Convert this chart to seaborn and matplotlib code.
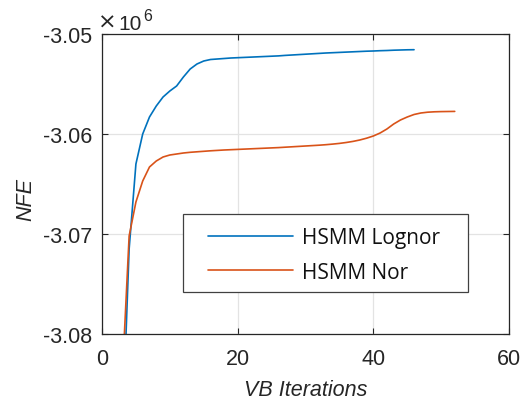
import numpy as np
import pandas as pd
import matplotlib
matplotlib.use("Agg")
import matplotlib.pyplot as plt
from matplotlib.patches import Rectangle
import seaborn as sns

# ---- data (NFE in units of 1e6) ----
iters_lognor = list(range(3, 47))
nfe_lognor = [-3.0900, -3.0715, -3.0630, -3.0600, -3.0583, -3.0572, -3.0563, -3.0557,
              -3.0552, -3.0543, -3.0535, -3.0530, -3.0527, -3.05255, -3.0525, -3.05245,
              -3.0524, -3.05237, -3.05234, -3.05231, -3.05228, -3.05225, -3.05222, -3.05219,
              -3.05214, -3.05210, -3.05206, -3.05202, -3.05198, -3.05194, -3.05190, -3.05187,
              -3.05184, -3.05181, -3.05178, -3.05175, -3.05172, -3.05170, -3.05167, -3.05165,
              -3.05162, -3.05160, -3.05158, -3.05157]

iters_nor = list(range(3, 53))
nfe_nor = [-3.0842, -3.0702, -3.0668, -3.0647, -3.0633, -3.0627, -3.0623, -3.0621,
           -3.0620, -3.0619, -3.06183, -3.06178, -3.06173, -3.06168, -3.06164, -3.0616,
           -3.06157, -3.06154, -3.06151, -3.06148, -3.06145, -3.06142, -3.06139, -3.06136,
           -3.06132, -3.06128, -3.06124, -3.0612, -3.06116, -3.06112, -3.06107, -3.06101,
           -3.06094, -3.06085, -3.06074, -3.0606, -3.06042, -3.0602, -3.0599, -3.0595,
           -3.0590, -3.0586, -3.0583, -3.05805, -3.0579, -3.05782, -3.05778, -3.05776,
           -3.05775, -3.05774]

series_names = ["HSMM Lognor", "HSMM Nor"]
series_colors = ["#0072BD", "#D95319"]
xticks = [0, 20, 40, 60]
yticks = [-3.08, -3.07, -3.06, -3.05]
ytick_labels = ["-3.08", "-3.07", "-3.06", "-3.05"]

df = pd.concat([
    pd.DataFrame({"iter": iters_lognor, "nfe": nfe_lognor, "model": series_names[0]}),
    pd.DataFrame({"iter": iters_nor, "nfe": nfe_nor, "model": series_names[1]}),
])

sns.set_theme(style="white")
plt.rcParams["font.family"] = ["Liberation Sans", "DejaVu Sans"]
plt.rcParams["axes.unicode_minus"] = False

W, H = 531, 402
fig = plt.figure(figsize=(W/100, H/100), dpi=100)
AX_L, AX_R, AX_T, AX_B = 102, 509, 35, 335
ax = fig.add_axes([AX_L/W, 1-AX_B/H, (AX_R-AX_L)/W, (AX_B-AX_T)/H])

def axx(px):
    return (px - AX_L) / (AX_R - AX_L)

def axy(py):
    return 1 - (py - AX_T) / (AX_B - AX_T)

sns.lineplot(data=df, x="iter", y="nfe", hue="model", palette=series_colors,
             estimator=None, sort=False, linewidth=1.2, ax=ax, legend=True)

ax.set_xlim(0, 60)
ax.set_ylim(-3.08, -3.05)
ax.set_xticks(xticks)
ax.set_yticks(yticks)
ax.set_yticklabels(ytick_labels)
ax.grid(True, color="#e3e3e3", linewidth=0.9)
ax.set_axisbelow(True)
edge = "#262626"
for s in ax.spines.values():
    s.set_visible(True)
    s.set_color(edge)
    s.set_linewidth(0.9)
ax.tick_params(direction="in", length=4, width=0.8, color=edge, labelsize=15.5,
               labelcolor="#262626", top=True, right=True, bottom=True, left=True)
ax.tick_params(axis="x", pad=10)
ax.tick_params(axis="y", pad=7)

ax.set_xlabel("VB Iterations", fontsize=15.5, style="italic", color="#262626")
ax.set_ylabel("NFE", fontsize=15.5, style="italic", color="#262626")
ax.xaxis.set_label_coords(0.5, -0.15)
ax.yaxis.set_label_coords(axx(36), 0.45)

# exponent label
ax.text(axx(117), axy(29), "×", transform=ax.transAxes, fontsize=16,
        family="DejaVu Sans", color="#262626", ha="right", va="baseline")
ax.text(axx(118), axy(30), "10", transform=ax.transAxes, fontsize=15,
        color="#262626", ha="left", va="baseline")
ax.text(axx(143), axy(21.5), "6", transform=ax.transAxes, fontsize=11.5,
        color="#262626", ha="left", va="baseline")

# legend (frame drawn separately)
handles, labels = ax.get_legend_handles_labels()
leg = ax.legend(handles, series_names, loc="upper left",
                bbox_to_anchor=(axx(208), axy(228)),
                borderaxespad=0, borderpad=0, frameon=False,
                handlelength=4.08, handletextpad=0.42, labelspacing=0.66,
                prop={"family": "Open Sans", "size": 15})
for t in leg.get_texts():
    t.set_color("#111111")
ax.add_patch(Rectangle((axx(183), axy(293)), axx(468) - axx(183), axy(215) - axy(293),
                       transform=ax.transAxes, facecolor="white", edgecolor="#404040",
                       linewidth=0.9, zorder=4))
leg.set_zorder(5)

fig.savefig("out.png", dpi=100)
